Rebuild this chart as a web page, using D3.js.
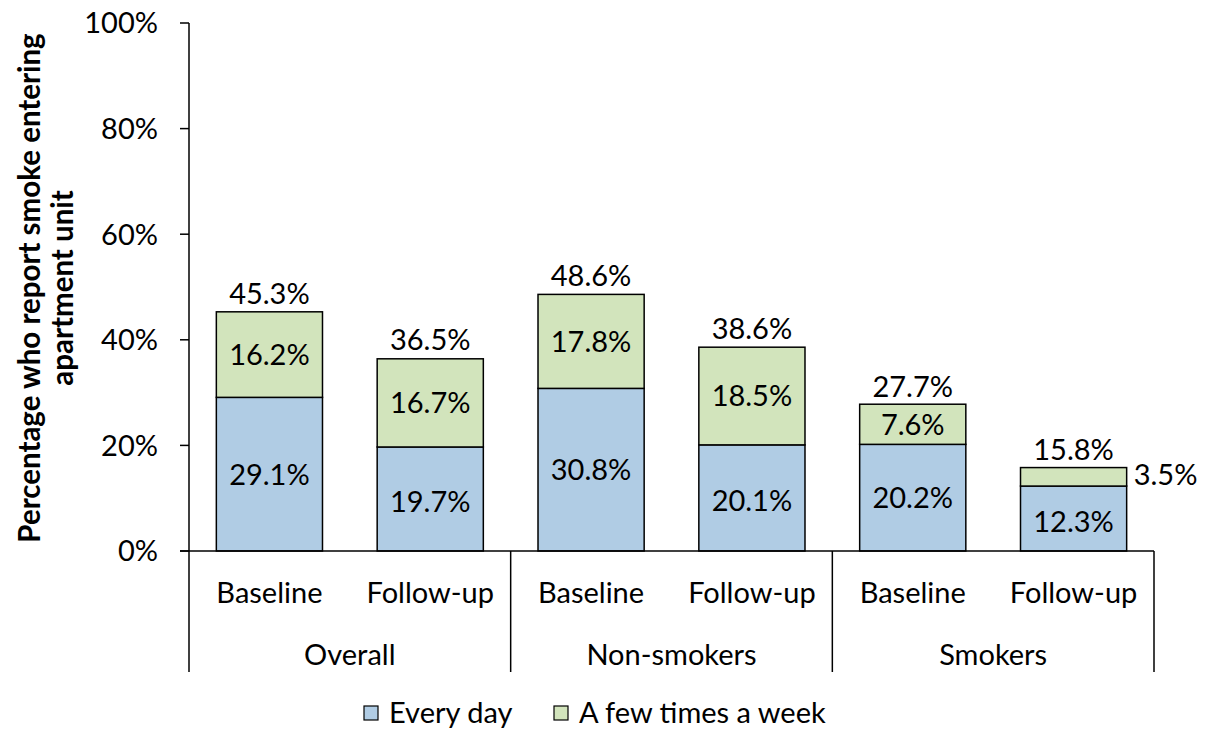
<!DOCTYPE html>
<html><head><meta charset="utf-8">
<script src="https://cdn.jsdelivr.net/npm/d3@7"></script>
<style>body{margin:0;background:#fff;} text{font-family:Lato, "Open Sans", sans-serif;}</style>
</head><body>
<svg id="c" width="1208" height="731"></svg>
<script>
const groups = ["Overall","Non-smokers","Smokers"];
const periods = ["Baseline","Follow-up"];
const everyDay = [29.1, 19.7, 30.8, 20.1, 20.2, 12.3];
const fewTimes = [16.2, 16.7, 17.8, 18.5, 7.6, 3.5];
const totals = [45.3, 36.5, 48.6, 38.6, 27.7, 15.8];
const yTicks = [0, 20, 40, 60, 80, 100];
const seriesNames = ["Every day","A few times a week"];
const colors = ["#B0CCE4","#D2E4BC"];

const svg = d3.select("#c");
const m = {left:189, right:1154, top:23, bottom:551};
const fs = 29;
const ids = d3.range(6);
const x = d3.scaleBand().domain(ids).range([m.left, m.right]).paddingInner(0.34).paddingOuter(0.17);
const y = d3.scaleLinear().domain([0,100]).range([m.bottom, m.top]);

// bars
const stack = ids.map(i => [[0, everyDay[i]], [everyDay[i], everyDay[i]+fewTimes[i]]]);
[0,1].forEach(s => {
  svg.append("g").selectAll("rect").data(ids).join("rect")
    .attr("x", i => x(i)).attr("width", x.bandwidth())
    .attr("y", i => y(stack[i][s][1])).attr("height", i => y(stack[i][s][0]) - y(stack[i][s][1]))
    .attr("fill", colors[s]).attr("stroke", "#000").attr("stroke-width", 1.5);
});

// y axis
svg.append("line").attr("x1", m.left).attr("x2", m.left).attr("y1", m.top).attr("y2", 672).attr("stroke","#000").attr("stroke-width",1.5);
yTicks.forEach(t => {
  svg.append("line").attr("x1", m.left-9).attr("x2", m.left).attr("y1", y(t)).attr("y2", y(t)).attr("stroke","#000").attr("stroke-width",1.5);
  svg.append("text").attr("x", m.left-31).attr("y", y(t)).attr("dy","0.36em").attr("text-anchor","end")
    .attr("font-size", fs).text(t + "%");
});
// x baseline
svg.append("line").attr("x1", m.left-9).attr("x2", m.right).attr("y1", m.bottom).attr("y2", m.bottom).attr("stroke","#000").attr("stroke-width",1.5);
// group separators
const gw = (m.right - m.left)/3;
[1,2,3].forEach(g => {
  svg.append("line").attr("x1", m.left+g*gw).attr("x2", m.left+g*gw).attr("y1", m.bottom).attr("y2", 672).attr("stroke","#000").attr("stroke-width",1.5);
});
// category labels
ids.forEach(i => {
  svg.append("text").attr("x", x(i)+x.bandwidth()/2).attr("y", 603).attr("text-anchor","middle").attr("font-size", fs).text(periods[i%2]);
});
groups.forEach((g, gi) => {
  svg.append("text").attr("x", m.left+(gi+0.5)*gw).attr("y", 665).attr("text-anchor","middle").attr("font-size", fs).text(g);
});

// data labels
ids.forEach(i => {
  const cx = x(i)+x.bandwidth()/2;
  svg.append("text").attr("x", cx).attr("y", (y(0)+y(everyDay[i]))/2 + (i%2===1?3:0)).attr("dy","0.36em").attr("text-anchor","middle").attr("font-size", fs).text(everyDay[i].toFixed(1)+"%");
  if (i === 5) {
    svg.append("text").attr("x", x(i)+x.bandwidth()+7).attr("y", (y(everyDay[i])+y(totals[i]))/2 - 2).attr("dy","0.36em").attr("text-anchor","start").attr("font-size", fs).text(fewTimes[i].toFixed(1)+"%");
  } else {
    svg.append("text").attr("x", cx).attr("y", (y(everyDay[i])+y(totals[i]))/2).attr("dy","0.36em").attr("text-anchor","middle").attr("font-size", fs).text(fewTimes[i].toFixed(1)+"%");
  }
  svg.append("text").attr("x", cx).attr("y", y(totals[i]) - 8).attr("text-anchor","middle").attr("font-size", fs).text(totals[i].toFixed(1)+"%");
});

// y title
const yt = svg.append("text").attr("transform", `translate(0,288) rotate(-90)`).attr("text-anchor","middle").attr("font-size", 29.5).attr("font-weight","bold");
yt.append("tspan").attr("x",0).attr("y",40).text("Percentage who report smoke entering");
yt.append("tspan").attr("x",0).attr("y",73).text("apartment unit");

// legend
const lg = [{x:364, tx:389},{x:554, tx:579}];
seriesNames.forEach((n, i) => {
  svg.append("rect").attr("x", lg[i].x).attr("y", 706).attr("width", 14).attr("height", 14).attr("fill", colors[i]).attr("stroke","#000").attr("stroke-width",1.2);
  svg.append("text").attr("x", lg[i].tx).attr("y", 713).attr("dy","0.36em").attr("font-size", fs).text(n);
});
</script>
</body></html>
